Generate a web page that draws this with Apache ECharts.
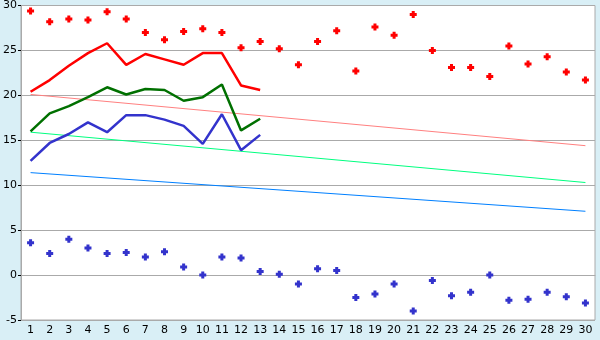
<!DOCTYPE html>
<html lang="en" style="height: 100%">
<head>
  <meta charset="utf-8">
</head>
<body style="height: 100%; margin: 0; background: #d9eff6">
  <div id="container" style="width: 600px; height: 340px"></div>
  <script type="text/javascript" src="https://cdn.jsdelivr.net/npm/echarts@6/dist/echarts.min.js"></script>
  <script type="text/javascript">
var days = [];
for (var d = 1; d <= 30; d++) days.push(String(d));

// scattered daily extremes
var highPoints = [29.4, 28.2, 28.5, 28.4, 29.3, 28.5, 27.0, 26.2, 27.1, 27.4,
  27.0, 25.3, 26.0, 25.2, 23.4, 26.0, 27.2, 22.7, 27.6, 26.7,
  29.0, 25.0, 23.1, 23.1, 22.1, 25.5, 23.5, 24.3, 22.6, 21.7];
var lowPoints = [3.6, 2.4, 4.0, 3.0, 2.4, 2.5, 2.0, 2.6, 0.9, 0.0,
  2.0, 1.9, 0.4, 0.1, -1.0, 0.7, 0.5, -2.5, -2.1, -1.0,
  -4.0, -0.6, -2.3, -1.9, 0.0, -2.8, -2.7, -1.9, -2.4, -3.1];

// observed lines (first 13 days)
var redLine = [20.4, 21.7, 23.3, 24.7, 25.8, 23.4, 24.6, 24.0, 23.4, 24.7, 24.7, 21.1, 20.6];
var greenLine = [16.0, 18.0, 18.8, 19.8, 20.9, 20.1, 20.7, 20.6, 19.4, 19.8, 21.2, 16.1, 17.4];
var blueLine = [12.7, 14.7, 15.7, 17.0, 15.9, 17.8, 17.8, 17.3, 16.6, 14.6, 17.9, 13.9, 15.6];

// straight trend lines: [day index, value] at both ends
var pinkTrend = [[0, 20.1], [29, 14.4]];
var greenTrend = [[0, 15.9], [29, 10.3]];
var blueTrend = [[0, 11.4], [29, 7.1]];

var yTicks = [-5, 0, 5, 10, 15, 20, 25, 30];

var cross = 'path://M2,0H5V2H7V5H5V7H2V5H0V2H2Z';

var chart = echarts.init(document.getElementById('container'), null, { renderer: 'canvas' });

function trend(data, color) {
  return {
    type: 'line', data: data, symbol: 'none', silent: true,
    lineStyle: { color: color, width: 1 }, z: 2
  };
}
function thick(data, color) {
  return {
    type: 'line', data: data, symbol: 'none',
    lineStyle: { color: color, width: 2.5 }, z: 3
  };
}

var option = {
  animation: false,
  backgroundColor: '#d9eff6',
  textStyle: { fontFamily: 'DejaVu Sans' },
  grid: { left: 20, right: 5, top: 5, bottom: 20, show: true, backgroundColor: '#ffffff', borderColor: '#aaaaaa', borderWidth: 1 },
  xAxis: {
    type: 'category',
    data: days,
    boundaryGap: true,
    axisLine: { lineStyle: { color: '#aaaaaa' } },
    axisTick: { alignWithLabel: true, length: 4, lineStyle: { color: '#000000' } },
    axisLabel: { color: '#000000', fontSize: 11, interval: 0, margin: 5 },
    splitLine: { show: false }
  },
  yAxis: {
    type: 'value',
    min: yTicks[0],
    max: yTicks[yTicks.length - 1],
    interval: 5,
    axisLine: { show: true, lineStyle: { color: '#aaaaaa' } },
    axisTick: { show: true, length: 3, lineStyle: { color: '#000000' } },
    axisLabel: { color: '#000000', fontSize: 11, margin: 4 },
    splitLine: { lineStyle: { color: '#aaaaaa', width: 1 } }
  },
  series: [
    trend(pinkTrend, '#ff8080'),
    trend(greenTrend, '#00ff80'),
    trend(blueTrend, '#0080ff'),
    thick(redLine, '#ff0000'),
    thick(greenLine, '#007000'),
    thick(blueLine, '#3333cc'),
    {
      type: 'scatter', data: highPoints, symbol: cross, symbolSize: 7,
      itemStyle: { color: '#ff0000', opacity: 1 }, z: 4
    },
    {
      type: 'scatter', data: lowPoints, symbol: cross, symbolSize: 7,
      itemStyle: { color: '#3333cc', opacity: 1 }, z: 4
    }
  ]
};

chart.setOption(option);
window.addEventListener('resize', chart.resize);
  </script>
</body>
</html>
